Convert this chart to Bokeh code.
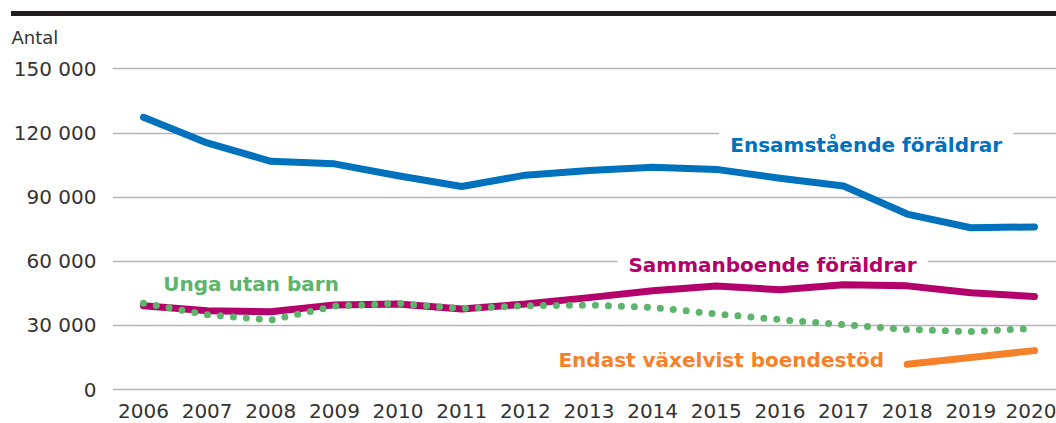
from bokeh.plotting import figure
from bokeh.models import Range1d, FixedTicker, Label, Div
from bokeh.layouts import column
from bokeh.embed import file_html
from bokeh.resources import INLINE

# ---- data ----
years = list(range(2006, 2021))
ensamstaende = [127400, 115400, 106800, 105600, 100000, 95000, 100300, 102500,
                104000, 103000, 98900, 95200, 82100, 75700, 76100]
sammanboende = [39200, 36900, 36400, 39600, 40000, 37700, 40000, 43000,
                46200, 48400, 46700, 49000, 48500, 45300, 43500]
unga_utan_barn = [40400, 35000, 32500, 39000, 40300, 37900, 39200, 39500,
                  38400, 35400, 32700, 30300, 28100, 27100, 28600]
vaxel_years = [2018, 2019, 2020]
vaxelvist = [11800, 15000, 18200]

y_ticks = [0, 30000, 60000, 90000, 120000, 150000]
y_tick_labels = ["0", "30 000", "60 000", "90 000", "120 000", "150 000"]
x_tick_labels = [str(y) for y in years]

series_names = ["Ensamstående föräldrar", "Sammanboende föräldrar",
                "Unga utan barn", "Endast växelvist boendestöd"]

# ---- styling ----
FONT = "DejaVu Sans"
BLUE = "#0071BC"
MAGENTA = "#B4006A"
GREEN = "#5DB46B"
ORANGE = "#F5822A"
TXT = "#333333"
GRID = "#b5b5b5"

# black rule across the top
bar = Div(text="", width=1045, height=5, margin=(11, 0, 0, 11),
          styles={"background-color": "#231f20"})

p = figure(width=1056, height=407, output_backend="svg", toolbar_location=None,
           x_range=Range1d(2005.513, 2020.346), y_range=Range1d(-1400, 155832),
           min_border_left=112, min_border_right=0, min_border_top=39,
           min_border_bottom=31, margin=0)
p.outline_line_color = None
p.border_fill_color = "white"
p.background_fill_color = "white"

p.title.text = "Antal"
p.title.align = "left"
p.title.offset = -101
p.title.text_font = FONT
p.title.text_font_size = "18px"
p.title.text_font_style = "normal"
p.title.text_color = TXT
p.title.standoff = 17

p.xaxis.ticker = FixedTicker(ticks=years)
p.xaxis.major_label_overrides = {y: s for y, s in zip(years, x_tick_labels)}
p.yaxis.ticker = FixedTicker(ticks=y_ticks)
p.yaxis.major_label_overrides = {v: s for v, s in zip(y_ticks, y_tick_labels)}
for ax in (p.xaxis, p.yaxis):
    ax.axis_line_color = None
    ax.major_tick_line_color = None
    ax.minor_tick_line_color = None
    ax.major_label_text_font = FONT
    ax.major_label_text_font_size = "20px"
    ax.major_label_text_color = TXT
p.xaxis.major_label_standoff = 5
p.yaxis.major_label_standoff = 10

p.xgrid.grid_line_color = None
p.ygrid.grid_line_color = GRID
p.ygrid.grid_line_width = 1.5

# ---- labels (white boxes cut the gridlines where needed) ----
label_specs = [
    (2015.22, 110700, series_names[0], BLUE, 11),
    (2013.62, 54700, series_names[1], MAGENTA, 11),
    (2006.31, 45400, series_names[2], GREEN, 0),
    (2012.52, 9900, series_names[3], ORANGE, 0),
]
for lx, ly, txt, col, pad in label_specs:
    p.add_layout(Label(x=lx, y=ly, text=txt, text_color=col, text_font=FONT,
                       text_font_size="20px", text_font_style="bold",
                       text_baseline="alphabetic", text_align="left",
                       x_offset=-pad, y_offset=8,
                       background_fill_color="white" if pad else None,
                       padding=pad, level="underlay"))

# ---- lines ----
p.line(years, ensamstaende, line_color=BLUE, line_width=7,
       line_cap="round", line_join="round")
p.line(years, sammanboende, line_color=MAGENTA, line_width=7,
       line_cap="round", line_join="round")
p.line(years, unga_utan_barn, line_color=GREEN, line_width=7,
       line_dash="0 13", line_cap="round", line_join="round")
p.line(vaxel_years, vaxelvist, line_color=ORANGE, line_width=7,
       line_cap="round", line_join="round")

layout = column(bar, p, spacing=0)
open("out.html", "w").write(file_html(layout, INLINE))
